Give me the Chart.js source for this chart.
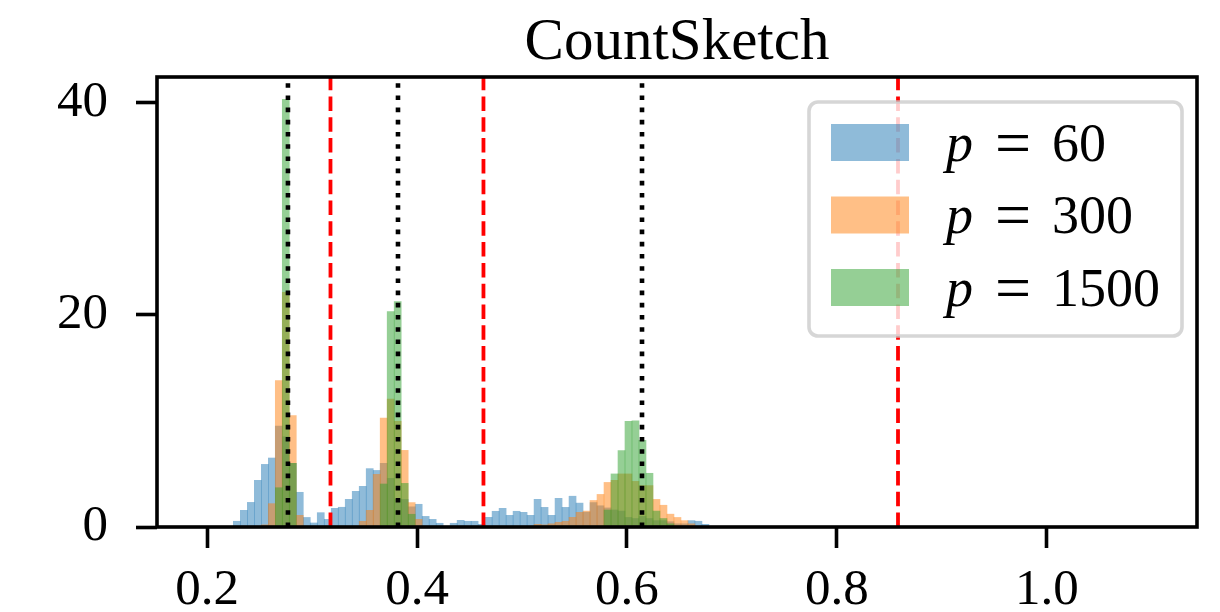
<!DOCTYPE html>
<html>
<head>
<meta charset="utf-8">
<script src="https://cdn.jsdelivr.net/npm/chart.js@4.4.1/dist/chart.umd.min.js"></script>
<style>
  html, body { margin: 0; padding: 0; background: #fff; }
  canvas { display: block; }
</style>
</head>
<body>
<canvas id="chart" width="1220" height="612"></canvas>
<script>
// Histogram grid (shared by all three series)
const binStart = 0.22508;
const binWidth = 0.006661;

// Density per bin
const p60 = [0.54, 1.57, 2.32, 4.4, 5.9, 6.5, 9.5, 8.5, 6.0, 3.27, 0.9, 0.38,
  1.35, 0.72, 1.76, 1.86, 2.61, 3.36, 3.83, 5.5, 5.33, 6.0, 4.58, 2.6, 2.6, 1.9, 2.14, 1.0, 0.72, 0.35, 0, 0.35,
  0.63, 0.54, 0.54, 0.25, 0.91, 1.48, 1.76, 1.1, 1.48, 1.38, 1.1,
  2.61, 1.85, 1.1, 2.7, 1.85, 2.9, 2.25, 1.4, 2.3, 2.0, 1.8, 1.6, 1.5, 0.9, 0.8, 1.0, 0.8, 0.6, 0.6, 0.5, 0.3, 0.3, 0.6, 0.54, 0.25];
const p300 = [0, 0, 0, 0, 0.2, 2.2, 13.8, 22.1, 10.5, 1.1, 0, 0,
  0, 0, 0, 0, 0, 0, 0.54, 1.57, 4.96, 10.26, 12.05, 9.95, 7.22, 2.3, 0.72, 0, 0, 0, 0, 0,
  0, 0, 0, 0, 0, 0, 0, 0, 0, 0, 0,
  0.25, 0.2, 0.3, 0.44, 0.54, 0.91, 1.38, 1.5, 2.5, 3.07, 4.2, 4.4, 5.0, 5.0, 4.3, 3.9, 3.9, 2.6, 2.05, 1.21, 0.9, 0.6, 0.3, 0, 0];
const p1500 = [0, 0, 0, 0, 0, 0, 3.7, 40.3, 6.0, 0, 0, 0,
  0, 0, 0, 0, 0, 0, 0, 0, 0, 4.05, 20.3, 21.24, 4.11, 1.2, 0, 0, 0, 0, 0, 0,
  0, 0, 0, 0, 0, 0, 0, 0, 0, 0, 0,
  0, 0, 0, 0, 0, 0, 0, 0, 0, 0, 1.6, 5.0, 7.2, 9.95, 10.0, 8.16, 5.06, 1.5, 0.8, 0.3, 0, 0, 0, 0, 0];

const seriesLabels = ["60", "300", "1500"];
const redLines = [0.3176, 0.4633, 0.8581];
const blackLines = [0.2771, 0.3819, 0.6143];
const xTicks = [0.2, 0.4, 0.6, 0.8, 1.0];
const yTicks = [0, 20, 40];
const xMin = 0.15238, xMax = 1.14286;
const yMax = 42.4;

const colors = ['rgba(31,119,180,0.5)', 'rgba(255,127,14,0.5)', 'rgba(44,160,44,0.5)'];
const serif = '"Liberation Serif", "DejaVu Serif", serif';

const binCenters = p60.map((_, i) => binStart + (i + 0.5) * binWidth);
const toPoints = arr => arr.map((v, i) => ({ x: binCenters[i], y: v }));

const frameAndLines = {
  id: 'frameAndLines',
  afterDatasetsDraw(chart) {
    const { ctx, chartArea: a, scales: { x } } = chart;
    ctx.save();
    // vertical reference lines, drawn from the bottom up like axvline
    const vline = (v, color, width, dash) => {
      const px = x.getPixelForValue(v);
      ctx.beginPath();
      ctx.strokeStyle = color;
      ctx.lineWidth = width;
      ctx.setLineDash(dash);
      ctx.moveTo(px, a.bottom);
      ctx.lineTo(px, a.top);
      ctx.stroke();
    };
    redLines.forEach(v => vline(v, '#ff0000', 3.8, [14.5, 6.3]));
    blackLines.forEach(v => vline(v, '#000000', 4.6, [4.6, 7.6]));
    ctx.setLineDash([]);

    // spines
    ctx.strokeStyle = '#000';
    ctx.lineWidth = 3.6;
    ctx.strokeRect(a.left, a.top, a.right - a.left, a.bottom - a.top);

    // title
    ctx.fillStyle = '#000';
    ctx.font = '59px ' + serif;
    ctx.textAlign = 'center';
    ctx.textBaseline = 'alphabetic';
    ctx.fillText('CountSketch', (a.left + a.right) / 2, a.top - 18);

    // legend
    const lx = a.right - 388, ly = a.top + 25, lw = 373, lh = 234;
    ctx.beginPath();
    ctx.roundRect(lx, ly, lw, lh, 9);
    ctx.fillStyle = 'rgba(255,255,255,0.8)';
    ctx.fill();
    ctx.strokeStyle = 'rgba(204,204,204,0.8)';
    ctx.lineWidth = 3.6;
    ctx.stroke();
    seriesLabels.forEach((lab, i) => {
      const cy = ly + 40.5 + i * 72.5;
      ctx.fillStyle = colors[i];
      ctx.fillRect(lx + 22, cy - 18.5, 78, 37);
      ctx.fillStyle = '#000';
      ctx.textAlign = 'left';
      ctx.font = 'italic 54px ' + serif;
      ctx.fillText('p', lx + 137, cy + 18);
      ctx.font = '64px ' + serif;
      ctx.fillText('=', lx + 186, cy + 21);
      ctx.font = '54px ' + serif;
      ctx.fillText(lab, lx + 243, cy + 18);
    });
    ctx.restore();
  }
};

new Chart(document.getElementById('chart'), {
  type: 'bar',
  data: {
    datasets: [p60, p300, p1500].map((arr, i) => ({
      label: 'p = ' + seriesLabels[i],
      data: toPoints(arr),
      backgroundColor: colors[i],
      borderWidth: 0,
      barPercentage: 1,
      categoryPercentage: 1,
      grouped: false,
      order: 3 - i
    }))
  },
  options: {
    responsive: false,
    animation: false,
    devicePixelRatio: 1,
    layout: { padding: { left: 0, right: 23, top: 77, bottom: 0 } },
    plugins: { legend: { display: false }, title: { display: false }, tooltip: { enabled: false } },
    scales: {
      x: {
        type: 'linear',
        min: xMin,
        max: xMax,
        offset: false,
        border: { display: false },
        grid: { offset: false, drawOnChartArea: false, tickLength: 21, tickWidth: 3.6, tickColor: '#000' },
        ticks: { color: '#000', font: { family: serif, size: 51 }, padding: 12, maxRotation: 0,
          callback: v => v.toFixed(1) },
        afterBuildTicks: axis => { axis.ticks = xTicks.map(v => ({ value: v })); },
        afterFit: axis => { axis.height = 85; }
      },
      y: {
        min: 0,
        max: yMax,
        border: { display: false },
        grid: { offset: false, drawOnChartArea: false, tickLength: 21, tickWidth: 3.6, tickColor: '#000' },
        ticks: { color: '#000', font: { family: serif, size: 51 }, padding: 28,
          callback: v => String(v) },
        afterBuildTicks: axis => { axis.ticks = yTicks.map(v => ({ value: v })); },
        afterFit: axis => { axis.width = 157; }
      }
    }
  },
  plugins: [frameAndLines]
});
</script>
</body>
</html>
